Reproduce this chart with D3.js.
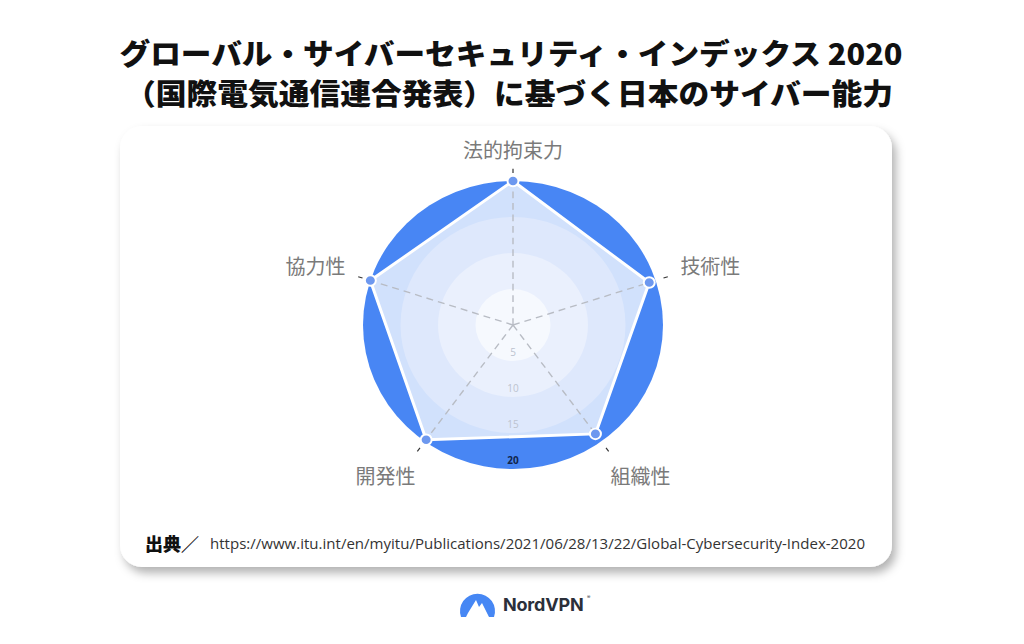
<!DOCTYPE html>
<html lang="ja">
<head>
<meta charset="utf-8">
<script src="https://cdn.jsdelivr.net/npm/d3@7.9.0/dist/d3.min.js"></script>
<style>
  html, body { margin: 0; padding: 0; background: #fff; }
  svg { display: block; }
</style>
</head>
<body>
<svg id="chart" width="1024" height="644"></svg>
<script>
// data (GCI 2020, Japan)
const axes = ['法的拘束力', '技術性', '組織性', '開発性', '協力性'];
const scores = [20, 19.1, 18.7, 19.7, 20];
const ringTicks = [5, 10, 15, 20];
const ringFills = ['#f6f9fe', '#eaf0fd', '#dee8fc', '#4886f4'];
const titleLines = [
  'グローバル・サイバーセキュリティ・インデックス 2020',
  '（国際電気通信連合発表）に基づく日本のサイバー能力'
];
const sourceLabel = '出典／';
const sourceUrl = 'https://www.itu.int/en/myitu/Publications/2021/06/28/13/22/Global-Cybersecurity-Index-2020';

const svg = d3.select('#chart');
const jp = '"Noto Sans CJK JP", "Noto Sans", sans-serif';

const cx = 513, cy = 325, sy = 0.96;
const r = d3.scaleLinear().domain([0, 20]).range([0, 150]);
const angle = d3.scaleLinear().domain([0, axes.length]).range([0, 2 * Math.PI]);

// title
svg.append('g').selectAll('text')
  .data(titleLines)
  .join('text')
  .attr('x', (d, i) => i ? 509 : 511)
  .attr('y', (d, i) => 52 + i * 40)
  .attr('text-anchor', 'middle')
  .attr('dominant-baseline', 'central')
  .attr('textLength', (d, i) => i ? 768 : 783)
  .attr('lengthAdjust', 'spacingAndGlyphs')
  .style('font-family', jp)
  .style('font-weight', 900)
  .style('font-size', '29px')
  .style('fill', '#111')
  .text(d => d);

// card
const defs = svg.append('defs');
const shadow = defs.append('filter').attr('id', 'shadow')
  .attr('x', '-10%').attr('y', '-10%').attr('width', '120%').attr('height', '125%');
shadow.append('feDropShadow')
  .attr('dx', 4).attr('dy', 6).attr('stdDeviation', 5)
  .attr('flood-color', '#000').attr('flood-opacity', 0.3);

svg.append('rect')
  .attr('x', 120).attr('y', 126)
  .attr('width', 772).attr('height', 441)
  .attr('rx', 22)
  .attr('fill', '#fff')
  .attr('filter', 'url(#shadow)');

// radar
const g = svg.append('g').attr('transform', `translate(${cx},${cy}) scale(1,${sy})`);

g.append('circle')
  .attr('r', r(20))
  .attr('fill', ringFills[3]);

const radarLine = d3.lineRadial()
  .angle((d, i) => angle(i))
  .radius(d => r(d))
  .curve(d3.curveLinearClosed);

g.append('path')
  .datum(scores)
  .attr('d', radarLine)
  .attr('fill', '#fff')
  .attr('fill-opacity', 0.75);

g.selectAll('circle.band')
  .data(ringTicks.slice(0, 3).reverse())
  .join('circle')
  .attr('class', 'band')
  .attr('r', d => r(d))
  .attr('fill', d => ringFills[ringTicks.indexOf(d)]);

// dashed spokes
g.selectAll('line.spoke')
  .data(scores)
  .join('line')
  .attr('class', 'spoke')
  .attr('x1', 0).attr('y1', 0)
  .attr('x2', (d, i) => d3.pointRadial(angle(i), r(d))[0])
  .attr('y2', (d, i) => d3.pointRadial(angle(i), r(d))[1])
  .attr('stroke', '#b8bcc4')
  .attr('stroke-width', 1.4)
  .attr('stroke-dasharray', '7,5');

// short ticks outside the ring
g.selectAll('line.tick')
  .data(axes)
  .join('line')
  .attr('class', 'tick')
  .attr('x1', (d, i) => d3.pointRadial(angle(i), r(21.1))[0])
  .attr('y1', (d, i) => d3.pointRadial(angle(i), r(21.1))[1])
  .attr('x2', (d, i) => d3.pointRadial(angle(i), r(21.7))[0])
  .attr('y2', (d, i) => d3.pointRadial(angle(i), r(21.7))[1])
  .attr('stroke', '#333')
  .attr('stroke-width', 1.2);

g.append('path')
  .datum(scores)
  .attr('d', radarLine)
  .attr('fill', 'none')
  .attr('stroke', '#fff')
  .attr('stroke-width', 3)
  .attr('stroke-linejoin', 'round');

g.selectAll('circle.dot')
  .data(scores)
  .join('circle')
  .attr('class', 'dot')
  .attr('cx', (d, i) => d3.pointRadial(angle(i), r(d))[0])
  .attr('cy', (d, i) => d3.pointRadial(angle(i), r(d))[1])
  .attr('r', 5.5)
  .attr('fill', '#6d98ef')
  .attr('stroke', '#fff')
  .attr('stroke-width', 2);

// ring value labels
svg.append('g').selectAll('text')
  .data(ringTicks)
  .join('text')
  .attr('x', cx)
  .attr('y', d => cy + r(d) * sy - 9)
  .attr('text-anchor', 'middle')
  .attr('dominant-baseline', 'central')
  .style('font-family', '"Open Sans", "Noto Sans", sans-serif')
  .style('font-size', '10px')
  .style('font-weight', d => d === 20 ? 700 : 400)
  .style('fill', d => d === 20 ? '#12254a' : '#bcc3cf')
  .text(d => d);

// axis labels
svg.append('g').selectAll('text')
  .data(axes)
  .join('text')
  .each(function (d, i) {
    const [px, py] = d3.pointRadial(angle(i), 176);
    const low = py > 50;
    d3.select(this)
      .attr('x', cx + px - (low ? Math.sign(px) * 6 : 0))
      .attr('y', cy + py * sy + (low ? 14 : -7))
      .attr('text-anchor', Math.abs(px) < 1 ? 'middle' : px > 0 ? 'start' : 'end');
  })
  .attr('dominant-baseline', 'central')
  .style('font-family', jp)
  .style('font-size', '20px')
  .style('fill', '#7a7a7a')
  .text(d => d);

// source
svg.append('text')
  .attr('x', 145).attr('y', 543)
  .attr('dominant-baseline', 'central')
  .style('font-family', jp)
  .style('font-weight', 900)
  .style('font-size', '18px')
  .style('fill', '#111')
  .text(sourceLabel);

svg.append('text')
  .attr('x', 210).attr('y', 543)
  .attr('dominant-baseline', 'central')
  .attr('textLength', 655)
  .attr('lengthAdjust', 'spacingAndGlyphs')
  .style('font-family', '"Open Sans", "Noto Sans", sans-serif')
  .style('font-size', '15px')
  .style('fill', '#333')
  .text(sourceUrl);

// NordVPN logo
const logo = svg.append('g');
logo.append('path')
  .attr('d', 'M461,617 A17.5,17.5 0 1 1 494,617 L489,617 L482,603 L479,607 L476,600 L468,613 L466,617 Z')
  .attr('fill', '#4687f4');
logo.append('text')
  .attr('x', 503).attr('y', 611)
  .style('font-family', 'Inter, Roboto, sans-serif')
  .style('font-weight', 700)
  .style('font-size', '18px')
  .style('letter-spacing', '-0.2px')
  .style('fill', '#2b2f3a')
  .text('NordVPN');
logo.append('text')
  .attr('x', 587).attr('y', 599)
  .style('font-family', 'Inter, Roboto, sans-serif')
  .style('font-size', '5px')
  .style('fill', '#2b2f3a')
  .text('®');
</script>
</body>
</html>
